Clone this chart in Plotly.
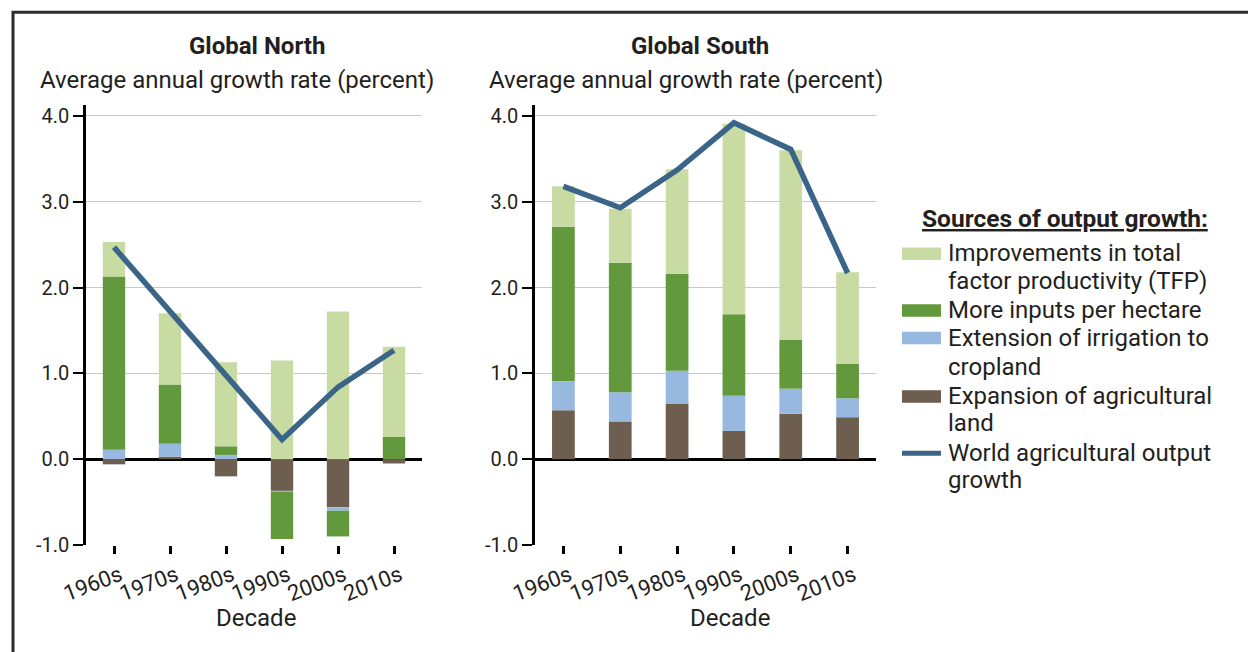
import plotly.graph_objects as go

W, H = 1248, 652

decades = ["1960s", "1970s", "1980s", "1990s", "2000s", "2010s"]

# Global North components (percent)
north_land = [-0.06, 0.03, -0.20, -0.37, -0.56, -0.05]
north_irrigation = [0.11, 0.15, 0.05, -0.01, -0.04, 0.0]
north_inputs = [2.02, 0.69, 0.10, -0.55, -0.30, 0.26]
north_tfp = [0.40, 0.83, 0.98, 1.15, 1.72, 1.05]
north_output = [2.47, 1.72, 0.98, 0.23, 0.84, 1.27]

# Global South components (percent)
south_land = [0.57, 0.44, 0.65, 0.33, 0.53, 0.49]
south_irrigation = [0.34, 0.34, 0.38, 0.41, 0.29, 0.22]
south_inputs = [1.80, 1.51, 1.13, 0.95, 0.57, 0.40]
south_tfp = [0.47, 0.63, 1.22, 2.22, 2.21, 1.07]
south_output = [3.18, 2.93, 3.37, 3.92, 3.61, 2.17]

y_ticks = [-1.0, 0.0, 1.0, 2.0, 3.0, 4.0]
y_ticklabels = ["-1.0", "0.0", "1.0", "2.0", "3.0", "4.0"]

legend_labels = [
    ["Improvements in total", "factor productivity (TFP)"],
    ["More inputs per hectare"],
    ["Extension of irrigation to", "cropland"],
    ["Expansion of agricultural", "land"],
    ["World agricultural output", "growth"],
]

C_TFP = "#c8dba3"
C_INPUTS = "#63993d"
C_IRR = "#97b9df"
C_LAND = "#6e5e50"
C_LINE = "#3a6589"
TXT = "#231f20"
FONT = "Roboto"

def px(x):
    return x / W

def py(y):
    return 1 - y / H

fig = go.Figure()

def add_panel(xa, ya, land, irr, inputs, tfp, out):
    for vals, col in [(land, C_LAND), (irr, C_IRR), (inputs, C_INPUTS), (tfp, C_TFP)]:
        fig.add_trace(go.Bar(x=decades, y=vals, marker=dict(color=col, line=dict(width=0)),
                             width=0.4, xaxis=xa, yaxis=ya, showlegend=False))
    fig.add_trace(go.Scatter(x=decades, y=out, mode="lines",
                             line=dict(color=C_LINE, width=5.5),
                             xaxis=xa, yaxis=ya, showlegend=False))

add_panel("x", "y", north_land, north_irrigation, north_inputs, north_tfp, north_output)
add_panel("x2", "y2", south_land, south_irrigation, south_inputs, south_tfp, south_output)

ydom = [py(545), py(104.8)]
yaxis_common = dict(
    range=[-1.0, 4.13], domain=ydom, tickmode="array",
    tickvals=y_ticks, ticktext=y_ticklabels,
    automargin=False,
    showgrid=True, gridcolor="#c9c9c9", gridwidth=1,
    zeroline=True, zerolinecolor="#000000", zerolinewidth=2.5,
    showline=True, linecolor="#000000", linewidth=2.5,
    ticks="outside", ticklen=10, tickwidth=2, tickcolor="#000000",
    tickfont=dict(family=FONT, size=20, color=TXT),
)
xaxis_common = dict(
    range=[-0.5, 5.5], showgrid=False, zeroline=False, showline=False,
    automargin=False,
    ticks="outside", ticklen=8, tickwidth=2.5, tickcolor="#000000",
    tickangle=-21, ticklabelshift=6,
    tickfont=dict(family=FONT, size=22, color=TXT),
)

fig.update_layout(
    template="none",
    width=W, height=H, autosize=False,
    margin=dict(l=0, r=0, t=0, b=0, pad=0, autoexpand=False),
    paper_bgcolor="white", plot_bgcolor="white",
    barmode="relative", bargap=0.6,
    font=dict(family=FONT, color=TXT),
    xaxis=dict(domain=[px(86), px(422)], anchor="y", **xaxis_common),
    yaxis=dict(anchor="x", **yaxis_common),
    xaxis2=dict(domain=[px(535), px(876)], anchor="y2", **xaxis_common),
    yaxis2=dict(anchor="x2", **yaxis_common),
)

annotations = []
shapes = []

def text(x, y, s, size, xanchor="left", bold=False):
    if bold:
        s = "<b>" + s + "</b>"
    annotations.append(dict(x=px(x), y=py(y), xref="paper", yref="paper", text=s,
                            showarrow=False, xanchor=xanchor, yanchor="middle",
                            font=dict(family=FONT, size=size, color=TXT)))

# panel titles
text(257, 46, "Global North", 24, "center", bold=True)
text(700, 46, "Global South", 24, "center", bold=True)
text(38, 80, "Average annual growth rate (percent)", 24)
text(487, 80, "Average annual growth rate (percent)", 24)
text(256, 618, "Decade", 24, "center")
text(730, 618, "Decade", 24, "center")

# legend
annotations.append(dict(x=px(920), y=py(218), xref="paper", yref="paper",
                        text="<u><b>Sources of output growth:</b></u>", showarrow=False,
                        xanchor="left", yanchor="middle",
                        font=dict(family=FONT, size=24.5, color=TXT)))
legend_rows = [[253, 280.7], [310], [338, 366.7], [396, 423], [453, 480]]
for lines, ys in zip(legend_labels, legend_rows):
    for s, yy in zip(lines, ys):
        text(946, yy, s, 24)

swatches = [(C_TFP, 253.7), (C_INPUTS, 310.5), (C_IRR, 338), (C_LAND, 396.5)]
for col, yc in swatches:
    shapes.append(dict(type="rect", xref="paper", yref="paper",
                       x0=px(902), x1=px(941), y0=py(yc + 6.3), y1=py(yc - 6.3),
                       fillcolor=col, line=dict(width=0)))
shapes.append(dict(type="line", xref="paper", yref="paper",
                   x0=px(902), x1=px(941), y0=py(453.3), y1=py(453.3),
                   line=dict(color=C_LINE, width=5)))

# outer frame
shapes.append(dict(type="rect", xref="paper", yref="paper",
                   x0=px(13), x1=1.05, y0=-0.05, y1=py(12.3),
                   fillcolor="rgba(0,0,0,0)", line=dict(color="#2b2b2b", width=3)))

fig.update_layout(annotations=annotations, shapes=shapes)

fig.write_html("out.html", config={"displayModeBar": False},
               post_script="document.body.style.margin='0px';")
